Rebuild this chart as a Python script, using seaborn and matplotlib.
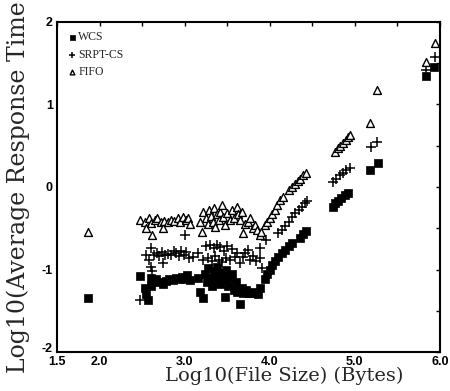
import matplotlib
matplotlib.use("Agg")
import matplotlib.pyplot as plt
import matplotlib.ticker as mticker
import seaborn as sns

# log10(file size) / log10(average response time)
wcs_x = [1.86,
         2.48, 2.53, 2.55, 2.57, 2.60, 2.61, 2.63, 2.66, 2.70, 2.74, 2.78, 2.82, 2.86, 2.90, 2.93, 2.97, 3.00, 3.03, 3.06,
         3.16, 3.18, 3.22, 3.24, 3.26, 3.28, 3.30, 3.32, 3.34, 3.36, 3.38, 3.40, 3.42, 3.44, 3.46, 3.47, 3.49, 3.51,
         3.53, 3.56, 3.58, 3.60, 3.62, 3.65, 3.67, 3.69, 3.72, 3.75, 3.78, 3.82, 3.86, 3.89,
         3.94, 3.97, 4.00, 4.03, 4.06, 4.10, 4.14, 4.18, 4.22, 4.26, 4.36, 4.39, 4.42,
         4.74, 4.77, 4.80, 4.84, 4.88, 4.92,
         5.18, 5.27, 5.84, 5.93]
wcs_y = [-1.34,
         -1.08, -1.22, -1.30, -1.37, -1.10, -1.20, -1.14, -1.12, -1.15, -1.17, -1.14, -1.12, -1.13, -1.10, -1.12, -1.09, -1.11, -1.07, -1.13,
         -1.10, -1.27, -1.35, -1.05, -1.15, -0.98, -1.10, -1.20, -1.02, -1.12, -0.97, -1.08, -1.18, -1.04, -1.12, -1.33, -1.00, -1.20,
         -1.10, -1.05, -1.25, -1.15, -1.27, -1.42, -1.22, -1.28, -1.25, -1.29, -1.28, -1.27, -1.30, -1.22,
         -1.12, -1.06, -1.00, -0.95, -0.90, -0.85, -0.80, -0.76, -0.72, -0.68, -0.62, -0.57, -0.53,
         -0.24, -0.20, -0.17, -0.13, -0.10, -0.07,
         0.21, 0.29, 1.34, 1.46]

srpt_x = [2.48, 2.55, 2.58, 2.60, 2.61, 2.62, 2.64, 2.67, 2.70, 2.73, 2.75, 2.77, 2.80, 2.84, 2.87, 2.90, 2.93, 2.96,
          2.99, 3.02, 3.05, 3.00, 3.10,
          3.16, 3.22, 3.25, 3.28, 3.30, 3.32, 3.34, 3.36, 3.38, 3.40, 3.42, 3.44, 3.46, 3.48, 3.50, 3.53, 3.56, 3.59,
          3.62, 3.65, 3.68, 3.71, 3.74, 3.77, 3.80, 3.84, 3.88, 3.89, 3.91, 3.95,
          4.10, 4.14, 4.18, 4.22, 4.26, 4.30, 4.34, 4.38, 4.41, 4.44,
          4.74, 4.78, 4.82, 4.86, 4.90, 4.94,
          5.19, 5.26, 5.84, 5.94]
srpt_y = [-1.37, -0.83, -0.88, -0.74, -0.97, -1.02, -0.82, -0.80, -0.84, -0.79, -0.92, -0.83, -0.81, -0.82, -0.78, -0.80, -0.84, -0.77,
          -0.82, -0.79, -0.86, -0.58, -0.85,
          -0.80, -0.88, -0.72, -0.86, -0.70, -0.90, -0.74, -0.84, -0.70, -0.88, -0.73, -0.91, -0.78, -0.86, -0.72, -0.88, -0.75, -0.85,
          -0.80, -0.92, -0.85, -0.80, -0.76, -0.88, -0.84, -0.90, -0.86, -0.74, -0.98, -0.64,
          -0.56, -0.52, -0.47, -0.42, -0.36, -0.32, -0.28, -0.24, -0.20, -0.17,
          0.06, 0.10, 0.14, 0.17, 0.20, 0.23,
          0.49, 0.55, 1.42, 1.58]

fifo_x = [1.86,
          2.48, 2.53, 2.55, 2.58, 2.61, 2.62, 2.65, 2.68, 2.72, 2.75, 2.76, 2.80, 2.84, 2.88, 2.92, 2.95, 2.98, 3.02, 3.04, 3.06,
          3.18, 3.20, 3.22, 3.25, 3.27, 3.29, 3.31, 3.33, 3.35, 3.36, 3.38, 3.40, 3.42, 3.44, 3.45, 3.47, 3.50, 3.53,
          3.56, 3.58, 3.61, 3.63, 3.65, 3.67, 3.69, 3.71, 3.74, 3.77, 3.80, 3.83, 3.85, 3.88, 3.90,
          3.94, 3.97, 4.00, 4.03, 4.06, 4.09, 4.12, 4.15, 4.22, 4.26, 4.30, 4.33, 4.36, 4.39, 4.42,
          4.77, 4.80, 4.83, 4.86, 4.89, 4.92, 4.94,
          5.18, 5.26, 5.84, 5.94]
fifo_y = [-0.55,
          -0.40, -0.42, -0.50, -0.38, -0.44, -0.58, -0.40, -0.37, -0.42, -0.50, -0.41, -0.43, -0.40, -0.41, -0.38, -0.42, -0.36, -0.40, -0.38, -0.45,
          -0.42, -0.55, -0.30, -0.38, -0.45, -0.28, -0.35, -0.42, -0.26, -0.48, -0.33, -0.40, -0.30, -0.22, -0.36, -0.46, -0.32, -0.40,
          -0.28, -0.37, -0.24, -0.33, -0.40, -0.30, -0.56, -0.45, -0.42, -0.38, -0.50, -0.46, -0.52, -0.58, -0.55,
          -0.46, -0.42, -0.38, -0.33, -0.28, -0.22, -0.16, -0.12, -0.04, 0.00, 0.04, 0.07, 0.10, 0.14, 0.17,
          0.43, 0.47, 0.50, 0.53, 0.57, 0.60, 0.63,
          0.77, 1.18, 1.52, 1.75]

x_ticks = [1.5, 2.0, 2.5, 3.0, 3.5, 4.0, 4.5, 5.0, 5.5, 6.0]
x_labels = ["1.5", "2.0", "", "3.0", "", "4.0", "", "5.0", "", "6.0"]
y_ticks = [-2, -1.5, -1, -0.5, 0, 0.5, 1, 1.5, 2]
y_labels = ["-2", "", "-1", "", "0", "", "1", "", "2"]

sns.set_style("white")

fig = plt.figure(figsize=(4.5, 3.91), dpi=100)
ax = fig.add_axes([57 / 450, 1 - 352 / 391, 383 / 450, 330 / 391])

sns.scatterplot(x=wcs_x, y=wcs_y, marker="s", s=36, color="black", edgecolor="black",
                linewidth=0.5, ax=ax, label="WCS")
sns.scatterplot(x=srpt_x, y=srpt_y, marker="+", s=42, color="black", linewidth=1.1,
                ax=ax, label="SRPT-CS")
sns.scatterplot(x=fifo_x, y=fifo_y, marker="^", s=32, color="white", edgecolor="black",
                linewidth=1.0, ax=ax, label="FIFO")

ax.set_xlim(1.5, 6.0)
ax.set_ylim(-2, 2)
ax.xaxis.set_major_locator(mticker.FixedLocator(x_ticks))
ax.xaxis.set_major_formatter(mticker.FixedFormatter(x_labels))
ax.yaxis.set_major_locator(mticker.FixedLocator(y_ticks))
ax.yaxis.set_major_formatter(mticker.FixedFormatter(y_labels))
ax.tick_params(direction="in", length=3, width=1, top=True, right=True,
               colors="black", pad=3)
for lab in ax.get_xticklabels() + ax.get_yticklabels():
    lab.set_family("Liberation Sans")
    lab.set_weight("bold")
    lab.set_fontsize(9)
# the "-2" sits a little above the corner, clear of "1.5"
ax.get_yticklabels()[0].set_verticalalignment("baseline")

for sp in ax.spines.values():
    sp.set_color("black")
    sp.set_linewidth(1.5)

ax.set_xlabel("Log10(File Size) (Bytes)", family="DejaVu Serif", fontsize=14)
ax.set_ylabel("Log10(Average Response Time", family="DejaVu Serif", fontsize=17)
ax.xaxis.set_label_coords(0.593, -0.045)
ax.yaxis.set_label_coords(-0.07, 0.5)

ax.legend(loc="upper left", frameon=False, prop={"family": "Liberation Serif", "size": 8.5},
          handletextpad=0.0, handlelength=1.0, labelspacing=0.45, markerscale=0.6,
          borderaxespad=0.6, borderpad=0.2)

fig.savefig("out.png", dpi=100)
